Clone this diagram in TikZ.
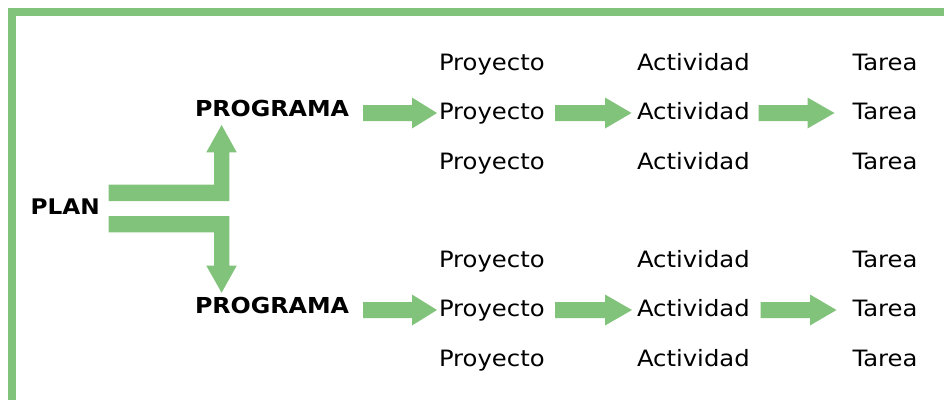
\documentclass[tikz,border=0pt]{standalone}
\usepackage{fontspec}
\setmainfont{DejaVu Sans}[FakeStretch=1.08]
\definecolor{grn}{RGB}{130,195,123}
\tikzset{
  x=1pt, y=-1pt,
  txt/.style={anchor=base west, inner sep=0pt, outer sep=0pt, font=\fontsize{22.5}{27}\selectfont, text=black},
  btxt/.style={txt, font=\fontsize{22}{27}\selectfont\bfseries},
  arr/.style={fill=grn, draw=none}
}
% block arrow: #1 shaft start x, #2 head base x, #3 tip x, #4 centre y
\newcommand{\blockarr}[4]{%
  \fill[arr] (#1,#4-8) -- (#2,#4-8) -- (#2,#4-15.5) -- (#3,#4) -- (#2,#4+15.5) -- (#2,#4+8) -- (#1,#4+8) -- cycle;}
\begin{document}
\begin{tikzpicture}
\useasboundingbox (0,0) rectangle (944,400);
% border
\fill[grn] (8,8) rectangle (944,16);
\fill[grn] (8,8) rectangle (16,400);

% texts
\node[btxt, font=\fontsize{21.5}{26}\selectfont\bfseries] (plan) at (30.5,214.3) {PLAN};
\node[btxt] (prog1) at (195,116.7) {PROGRAMA};
\node[btxt] (prog2) at (195,313.7) {PROGRAMA};

\foreach \r/\y in {1/70.3, 2/119.8, 3/169.3, 4/267.3, 5/316.8, 6/366.0}{
  \node[txt] (proy\r) at (439,\y) {Proyecto};
  \node[txt] (act\r) at (637,\y) {Actividad};
  \node[txt] (tar\r) at (852.5,\y) {Tarea};
}

% bent arrows from PLAN
\fill[arr] (108.5,184.5) -- (214,184.5) -- (214,152.3) -- (206.3,152.3) -- (221.6,125)
  -- (236.7,152.3) -- (229.3,152.3) -- (229.3,201) -- (108.5,201) -- cycle;
\fill[arr] (108.5,216) -- (229.3,216) -- (229.3,265.7) -- (236.7,265.7) -- (221.6,292.7)
  -- (206.3,265.7) -- (214,265.7) -- (214,232.3) -- (108.5,232.3) -- cycle;

% straight arrows
\blockarr{363}{412}{437}{113}
\blockarr{555}{605}{631.5}{113}
\blockarr{758.5}{807.5}{834.5}{113}
\blockarr{363}{412}{437}{310}
\blockarr{555}{605}{632}{310}
\blockarr{760.5}{810}{836.5}{310}
\end{tikzpicture}
\end{document}
